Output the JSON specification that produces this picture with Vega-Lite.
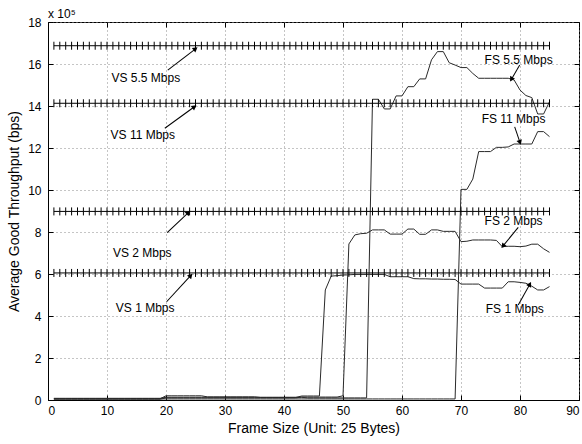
{
  "$schema": "https://vega.github.io/schema/vega-lite/v6.json",
  "autosize": "none",
  "width": 531,
  "height": 378,
  "padding": {"left": 48, "top": 22, "right": 3, "bottom": 44},
  "background": "white",
  "title": {"text": "x 10⁵", "anchor": "start", "frame": "group", "fontSize": 12, "fontWeight": "normal", "font": "Liberation Sans", "offset": 1, "dy": 6, "color": "black"},
  "config": {
    "font": "Liberation Sans",
    "view": {"stroke": "black", "strokeWidth": 1},
    "axis": {"labelFontSize": 12, "titleFontSize": 14, "titleFontWeight": "normal", "labelColor": "black", "titleColor": "black", "domainColor": "black", "tickColor": "black", "gridColor": "#8a8a8a", "gridDash": [1, 3], "gridOpacity": 1, "tickSize": -5, "labelPadding": 10}
  },
  "datasets": {
    "tp": [
      {"x":1,"fs1":0.06,"fs2":0.04,"fs55":0.08,"fs11":0.05,"vs1":6.05,"vs2":8.98,"vs55":16.87,"vs11":14.13},
      {"x":2,"fs1":0.06,"fs2":0.04,"fs55":0.08,"fs11":0.05,"vs1":6.05,"vs2":8.98,"vs55":16.87,"vs11":14.13},
      {"x":3,"fs1":0.06,"fs2":0.04,"fs55":0.08,"fs11":0.05,"vs1":6.05,"vs2":8.98,"vs55":16.87,"vs11":14.13},
      {"x":4,"fs1":0.06,"fs2":0.04,"fs55":0.08,"fs11":0.05,"vs1":6.05,"vs2":8.98,"vs55":16.87,"vs11":14.13},
      {"x":5,"fs1":0.06,"fs2":0.04,"fs55":0.08,"fs11":0.05,"vs1":6.05,"vs2":8.98,"vs55":16.87,"vs11":14.13},
      {"x":6,"fs1":0.06,"fs2":0.04,"fs55":0.08,"fs11":0.05,"vs1":6.05,"vs2":8.98,"vs55":16.87,"vs11":14.13},
      {"x":7,"fs1":0.06,"fs2":0.04,"fs55":0.08,"fs11":0.05,"vs1":6.05,"vs2":8.98,"vs55":16.87,"vs11":14.13},
      {"x":8,"fs1":0.06,"fs2":0.04,"fs55":0.08,"fs11":0.05,"vs1":6.05,"vs2":8.98,"vs55":16.87,"vs11":14.13},
      {"x":9,"fs1":0.06,"fs2":0.04,"fs55":0.08,"fs11":0.05,"vs1":6.05,"vs2":8.98,"vs55":16.87,"vs11":14.13},
      {"x":10,"fs1":0.06,"fs2":0.04,"fs55":0.08,"fs11":0.05,"vs1":6.05,"vs2":8.98,"vs55":16.87,"vs11":14.13},
      {"x":11,"fs1":0.06,"fs2":0.04,"fs55":0.08,"fs11":0.05,"vs1":6.05,"vs2":8.98,"vs55":16.87,"vs11":14.13},
      {"x":12,"fs1":0.06,"fs2":0.04,"fs55":0.08,"fs11":0.05,"vs1":6.05,"vs2":8.98,"vs55":16.87,"vs11":14.13},
      {"x":13,"fs1":0.06,"fs2":0.04,"fs55":0.08,"fs11":0.05,"vs1":6.05,"vs2":8.98,"vs55":16.87,"vs11":14.13},
      {"x":14,"fs1":0.06,"fs2":0.04,"fs55":0.08,"fs11":0.05,"vs1":6.05,"vs2":8.98,"vs55":16.87,"vs11":14.13},
      {"x":15,"fs1":0.06,"fs2":0.04,"fs55":0.08,"fs11":0.05,"vs1":6.05,"vs2":8.98,"vs55":16.87,"vs11":14.13},
      {"x":16,"fs1":0.06,"fs2":0.04,"fs55":0.08,"fs11":0.05,"vs1":6.05,"vs2":8.98,"vs55":16.87,"vs11":14.13},
      {"x":17,"fs1":0.06,"fs2":0.04,"fs55":0.08,"fs11":0.05,"vs1":6.05,"vs2":8.98,"vs55":16.87,"vs11":14.13},
      {"x":18,"fs1":0.06,"fs2":0.04,"fs55":0.08,"fs11":0.05,"vs1":6.05,"vs2":8.98,"vs55":16.87,"vs11":14.13},
      {"x":19,"fs1":0.06,"fs2":0.04,"fs55":0.08,"fs11":0.05,"vs1":6.05,"vs2":8.98,"vs55":16.87,"vs11":14.13},
      {"x":20,"fs1":0.2,"fs2":0.1,"fs55":0.13,"fs11":0.05,"vs1":6.05,"vs2":8.98,"vs55":16.87,"vs11":14.13},
      {"x":21,"fs1":0.2,"fs2":0.1,"fs55":0.13,"fs11":0.05,"vs1":6.05,"vs2":8.98,"vs55":16.87,"vs11":14.13},
      {"x":22,"fs1":0.2,"fs2":0.1,"fs55":0.13,"fs11":0.05,"vs1":6.05,"vs2":8.98,"vs55":16.87,"vs11":14.13},
      {"x":23,"fs1":0.2,"fs2":0.1,"fs55":0.13,"fs11":0.05,"vs1":6.05,"vs2":8.98,"vs55":16.87,"vs11":14.13},
      {"x":24,"fs1":0.2,"fs2":0.1,"fs55":0.13,"fs11":0.05,"vs1":6.05,"vs2":8.98,"vs55":16.87,"vs11":14.13},
      {"x":25,"fs1":0.2,"fs2":0.1,"fs55":0.13,"fs11":0.05,"vs1":6.05,"vs2":8.98,"vs55":16.87,"vs11":14.13},
      {"x":26,"fs1":0.2,"fs2":0.1,"fs55":0.13,"fs11":0.05,"vs1":6.05,"vs2":8.98,"vs55":16.87,"vs11":14.13},
      {"x":27,"fs1":0.15,"fs2":0.1,"fs55":0.13,"fs11":0.05,"vs1":6.05,"vs2":8.98,"vs55":16.87,"vs11":14.13},
      {"x":28,"fs1":0.15,"fs2":0.1,"fs55":0.13,"fs11":0.05,"vs1":6.05,"vs2":8.98,"vs55":16.87,"vs11":14.13},
      {"x":29,"fs1":0.15,"fs2":0.1,"fs55":0.13,"fs11":0.05,"vs1":6.05,"vs2":8.98,"vs55":16.87,"vs11":14.13},
      {"x":30,"fs1":0.15,"fs2":0.1,"fs55":0.13,"fs11":0.05,"vs1":6.05,"vs2":8.98,"vs55":16.87,"vs11":14.13},
      {"x":31,"fs1":0.15,"fs2":0.1,"fs55":0.13,"fs11":0.05,"vs1":6.05,"vs2":8.98,"vs55":16.87,"vs11":14.13},
      {"x":32,"fs1":0.15,"fs2":0.1,"fs55":0.13,"fs11":0.05,"vs1":6.05,"vs2":8.98,"vs55":16.87,"vs11":14.13},
      {"x":33,"fs1":0.15,"fs2":0.1,"fs55":0.13,"fs11":0.05,"vs1":6.05,"vs2":8.98,"vs55":16.87,"vs11":14.13},
      {"x":34,"fs1":0.15,"fs2":0.1,"fs55":0.13,"fs11":0.05,"vs1":6.05,"vs2":8.98,"vs55":16.87,"vs11":14.13},
      {"x":35,"fs1":0.15,"fs2":0.1,"fs55":0.13,"fs11":0.05,"vs1":6.05,"vs2":8.98,"vs55":16.87,"vs11":14.13},
      {"x":36,"fs1":0.12,"fs2":0.1,"fs55":0.13,"fs11":0.05,"vs1":6.05,"vs2":8.98,"vs55":16.87,"vs11":14.13},
      {"x":37,"fs1":0.12,"fs2":0.1,"fs55":0.13,"fs11":0.05,"vs1":6.05,"vs2":8.98,"vs55":16.87,"vs11":14.13},
      {"x":38,"fs1":0.12,"fs2":0.1,"fs55":0.13,"fs11":0.05,"vs1":6.05,"vs2":8.98,"vs55":16.87,"vs11":14.13},
      {"x":39,"fs1":0.12,"fs2":0.1,"fs55":0.13,"fs11":0.05,"vs1":6.05,"vs2":8.98,"vs55":16.87,"vs11":14.13},
      {"x":40,"fs1":0.12,"fs2":0.1,"fs55":0.13,"fs11":0.05,"vs1":6.05,"vs2":8.98,"vs55":16.87,"vs11":14.13},
      {"x":41,"fs1":0.12,"fs2":0.1,"fs55":0.13,"fs11":0.05,"vs1":6.05,"vs2":8.98,"vs55":16.87,"vs11":14.13},
      {"x":42,"fs1":0.12,"fs2":0.1,"fs55":0.13,"fs11":0.05,"vs1":6.05,"vs2":8.98,"vs55":16.87,"vs11":14.13},
      {"x":43,"fs1":0.19,"fs2":0.14,"fs55":0.13,"fs11":0.05,"vs1":6.05,"vs2":8.98,"vs55":16.87,"vs11":14.13},
      {"x":44,"fs1":0.19,"fs2":0.14,"fs55":0.1,"fs11":0.05,"vs1":6.05,"vs2":8.98,"vs55":16.87,"vs11":14.13},
      {"x":45,"fs1":0.19,"fs2":0.14,"fs55":0.1,"fs11":0.05,"vs1":6.05,"vs2":8.98,"vs55":16.87,"vs11":14.13},
      {"x":46,"fs1":0.19,"fs2":0.14,"fs55":0.1,"fs11":0.05,"vs1":6.05,"vs2":8.98,"vs55":16.87,"vs11":14.13},
      {"x":47,"fs1":5.24,"fs2":0.14,"fs55":0.1,"fs11":0.05,"vs1":6.05,"vs2":8.98,"vs55":16.87,"vs11":14.13},
      {"x":48,"fs1":5.9,"fs2":0.14,"fs55":0.1,"fs11":0.05,"vs1":6.05,"vs2":8.98,"vs55":16.87,"vs11":14.13},
      {"x":49,"fs1":5.92,"fs2":0.14,"fs55":0.1,"fs11":0.05,"vs1":6.05,"vs2":8.98,"vs55":16.87,"vs11":14.13},
      {"x":50,"fs1":5.95,"fs2":0.2,"fs55":0.1,"fs11":0.05,"vs1":6.05,"vs2":8.98,"vs55":16.87,"vs11":14.13},
      {"x":51,"fs1":5.96,"fs2":7.43,"fs55":0.1,"fs11":0.05,"vs1":6.05,"vs2":8.98,"vs55":16.87,"vs11":14.13},
      {"x":52,"fs1":5.98,"fs2":7.86,"fs55":0.1,"fs11":0.05,"vs1":6.05,"vs2":8.98,"vs55":16.87,"vs11":14.13},
      {"x":53,"fs1":5.98,"fs2":7.92,"fs55":0.1,"fs11":0.05,"vs1":6.05,"vs2":8.98,"vs55":16.87,"vs11":14.13},
      {"x":54,"fs1":5.98,"fs2":7.94,"fs55":0.1,"fs11":0.05,"vs1":6.05,"vs2":8.98,"vs55":16.87,"vs11":14.13},
      {"x":55,"fs1":5.98,"fs2":8.1,"fs55":14.32,"fs11":0.05,"vs1":6.05,"vs2":8.98,"vs55":16.87,"vs11":14.13},
      {"x":56,"fs1":5.98,"fs2":8.1,"fs55":14.32,"fs11":0.05,"vs1":6.05,"vs2":8.98,"vs55":16.87,"vs11":14.13},
      {"x":57,"fs1":5.98,"fs2":8.1,"fs55":13.86,"fs11":0.05,"vs1":6.05,"vs2":8.98,"vs55":16.87,"vs11":14.13},
      {"x":58,"fs1":5.87,"fs2":7.9,"fs55":13.86,"fs11":0.05,"vs1":6.05,"vs2":8.98,"vs55":16.87,"vs11":14.13},
      {"x":59,"fs1":5.87,"fs2":7.9,"fs55":14.48,"fs11":0.05,"vs1":6.05,"vs2":8.98,"vs55":16.87,"vs11":14.13},
      {"x":60,"fs1":5.87,"fs2":7.9,"fs55":14.48,"fs11":0.05,"vs1":6.05,"vs2":8.98,"vs55":16.87,"vs11":14.13},
      {"x":61,"fs1":5.87,"fs2":8.14,"fs55":14.92,"fs11":0.05,"vs1":6.05,"vs2":8.98,"vs55":16.87,"vs11":14.13},
      {"x":62,"fs1":5.78,"fs2":8.14,"fs55":14.92,"fs11":0.05,"vs1":6.05,"vs2":8.98,"vs55":16.87,"vs11":14.13},
      {"x":63,"fs1":5.77,"fs2":7.89,"fs55":15.29,"fs11":0.05,"vs1":6.05,"vs2":8.98,"vs55":16.87,"vs11":14.13},
      {"x":64,"fs1":5.77,"fs2":7.89,"fs55":15.29,"fs11":0.05,"vs1":6.05,"vs2":8.98,"vs55":16.87,"vs11":14.13},
      {"x":65,"fs1":5.76,"fs2":8.1,"fs55":16.2,"fs11":0.05,"vs1":6.05,"vs2":8.98,"vs55":16.87,"vs11":14.13},
      {"x":66,"fs1":5.76,"fs2":8.1,"fs55":16.59,"fs11":0.05,"vs1":6.05,"vs2":8.98,"vs55":16.87,"vs11":14.13},
      {"x":67,"fs1":5.75,"fs2":8.03,"fs55":16.59,"fs11":0.05,"vs1":6.05,"vs2":8.98,"vs55":16.87,"vs11":14.13},
      {"x":68,"fs1":5.75,"fs2":8.03,"fs55":16.06,"fs11":0.05,"vs1":6.05,"vs2":8.98,"vs55":16.87,"vs11":14.13},
      {"x":69,"fs1":5.74,"fs2":8.03,"fs55":15.95,"fs11":0.05,"vs1":6.05,"vs2":8.98,"vs55":16.87,"vs11":14.13},
      {"x":70,"fs1":5.52,"fs2":7.54,"fs55":15.83,"fs11":10.03,"vs1":6.05,"vs2":8.98,"vs55":16.87,"vs11":14.13},
      {"x":71,"fs1":5.52,"fs2":7.56,"fs55":15.83,"fs11":10.03,"vs1":6.05,"vs2":8.98,"vs55":16.87,"vs11":14.13},
      {"x":72,"fs1":5.52,"fs2":7.62,"fs55":15.55,"fs11":10.52,"vs1":6.05,"vs2":8.98,"vs55":16.87,"vs11":14.13},
      {"x":73,"fs1":5.52,"fs2":7.62,"fs55":15.32,"fs11":11.83,"vs1":6.05,"vs2":8.98,"vs55":16.87,"vs11":14.13},
      {"x":74,"fs1":5.33,"fs2":7.62,"fs55":15.32,"fs11":11.83,"vs1":6.05,"vs2":8.98,"vs55":16.87,"vs11":14.13},
      {"x":75,"fs1":5.33,"fs2":7.62,"fs55":15.32,"fs11":11.83,"vs1":6.05,"vs2":8.98,"vs55":16.87,"vs11":14.13},
      {"x":76,"fs1":5.33,"fs2":7.6,"fs55":15.32,"fs11":12.03,"vs1":6.05,"vs2":8.98,"vs55":16.87,"vs11":14.13},
      {"x":77,"fs1":5.33,"fs2":7.3,"fs55":15.32,"fs11":12.03,"vs1":6.05,"vs2":8.98,"vs55":16.87,"vs11":14.13},
      {"x":78,"fs1":5.63,"fs2":7.32,"fs55":15.32,"fs11":12.05,"vs1":6.05,"vs2":8.98,"vs55":16.87,"vs11":14.13},
      {"x":79,"fs1":5.63,"fs2":7.32,"fs55":15.24,"fs11":12.19,"vs1":6.05,"vs2":8.98,"vs55":16.87,"vs11":14.13},
      {"x":80,"fs1":5.6,"fs2":7.3,"fs55":14.76,"fs11":12.19,"vs1":6.05,"vs2":8.98,"vs55":16.87,"vs11":14.13},
      {"x":81,"fs1":5.56,"fs2":7.33,"fs55":14.5,"fs11":12.19,"vs1":6.05,"vs2":8.98,"vs55":16.87,"vs11":14.13},
      {"x":82,"fs1":5.42,"fs2":7.42,"fs55":14.4,"fs11":12.19,"vs1":6.05,"vs2":8.98,"vs55":16.87,"vs11":14.13},
      {"x":83,"fs1":5.24,"fs2":7.42,"fs55":13.62,"fs11":12.78,"vs1":6.05,"vs2":8.98,"vs55":16.87,"vs11":14.13},
      {"x":84,"fs1":5.24,"fs2":7.2,"fs55":13.62,"fs11":12.78,"vs1":6.05,"vs2":8.98,"vs55":16.87,"vs11":14.13},
      {"x":85,"fs1":5.4,"fs2":7.03,"fs55":14.2,"fs11":12.54,"vs1":6.05,"vs2":8.98,"vs55":16.87,"vs11":14.13}
    ],
    "notes": [
      {"label":"VS 5.5 Mbps","tx":10.75,"ty":15.35,"ax":20.3,"ay":15.71,"hx":24.9,"hy":16.7},
      {"label":"VS 11 Mbps","tx":10.6,"ty":12.62,"ax":19.8,"ay":12.94,"hx":24.7,"hy":13.94},
      {"label":"VS 2 Mbps","tx":11.0,"ty":7.01,"ax":20.2,"ay":7.97,"hx":23.7,"hy":8.9},
      {"label":"VS 1 Mbps","tx":11.5,"ty":4.4,"ax":20.1,"ay":4.68,"hx":24.1,"hy":5.9},
      {"label":"FS 5.5 Mbps","tx":74.0,"ty":16.19,"ax":79.95,"ay":15.95,"hx":78.6,"hy":15.3},
      {"label":"FS 11 Mbps","tx":73.5,"ty":13.37,"ax":79.1,"ay":13.01,"hx":79.95,"hy":12.3},
      {"label":"FS 2 Mbps","tx":74.0,"ty":8.52,"ax":79.7,"ay":8.22,"hx":77.2,"hy":7.36},
      {"label":"FS 1 Mbps","tx":74.2,"ty":4.32,"ax":79.7,"ay":4.52,"hx":81.6,"hy":5.48}
    ]
  },
  "resolve": {"axis": {"x": "independent", "y": "independent"}},
  "layer": [
    {
      "data": {"name": "tp"},
      "transform": [{"fold": ["fs1", "fs2", "fs55", "fs11"], "as": ["series", "val"]}],
      "mark": {"type": "line", "color": "#2a2a2a", "strokeWidth": 1, "interpolate": "linear"},
      "encoding": {
        "x": {"field": "x", "type": "quantitative", "scale": {"domain": [0, 90], "nice": false}, "axis": {"orient": "bottom", "values": [0,10,20,30,40,50,60,70,80,90], "grid": true, "title": "Frame Size (Unit: 25 Bytes)", "titlePadding": 5}},
        "y": {"field": "val", "type": "quantitative", "scale": {"domain": [0, 18], "nice": false}, "axis": {"orient": "left", "values": [0,2,4,6,8,10,12,14,16,18], "grid": true, "labelPadding": 12, "title": "Average Good Throughput (bps)", "titlePadding": 6}},
        "detail": {"field": "series"}
      }
    },
    {
      "data": {"name": "tp"},
      "transform": [{"fold": ["vs1", "vs2", "vs55", "vs11"], "as": ["series", "val"]}],
      "mark": {"type": "line", "color": "black", "strokeWidth": 1},
      "encoding": {
        "x": {"field": "x", "type": "quantitative", "scale": {"domain": [0, 90], "nice": false}, "axis": null},
        "y": {"field": "val", "type": "quantitative", "scale": {"domain": [0, 18], "nice": false}, "axis": null},
        "detail": {"field": "series"}
      }
    },
    {
      "data": {"name": "tp"},
      "transform": [{"fold": ["vs1", "vs2", "vs55", "vs11"], "as": ["series", "val"]}],
      "mark": {"type": "point", "shape": "M0,-1L0,1", "size": 64, "filled": false, "color": "black", "strokeWidth": 1, "opacity": 1},
      "encoding": {
        "x": {"field": "x", "type": "quantitative", "scale": {"domain": [0, 90], "nice": false}, "axis": null},
        "y": {"field": "val", "type": "quantitative", "scale": {"domain": [0, 18], "nice": false}, "axis": null}
      }
    },
    {
      "data": {"name": "notes"},
      "transform": [
        {"calculate": "atan2((datum.hx - datum.ax) * 5.9, (datum.hy - datum.ay) * 21) * 180 / PI", "as": "ang"},
        {"calculate": "(datum.ax + datum.hx) / 2", "as": "mx"},
        {"calculate": "(datum.ay + datum.hy) / 2", "as": "my"},
        {"calculate": "pow((datum.hx - datum.ax) * 5.9, 2) + pow((datum.hy - datum.ay) * 21, 2)", "as": "len2"}
      ],
      "mark": {"type": "point", "shape": "M0,-1L0,1", "filled": false, "color": "black", "strokeWidth": 1, "opacity": 1},
      "encoding": {
        "x": {"field": "mx", "type": "quantitative", "scale": {"domain": [0, 90], "nice": false}, "axis": null},
        "y": {"field": "my", "type": "quantitative", "scale": {"domain": [0, 18], "nice": false}, "axis": null},
        "angle": {"field": "ang", "type": "quantitative", "scale": null},
        "size": {"field": "len2", "type": "quantitative", "scale": null}
      }
    },
    {
      "data": {"name": "notes"},
      "transform": [{"calculate": "atan2((datum.hx - datum.ax) * 5.9, (datum.hy - datum.ay) * 21) * 180 / PI", "as": "ang"}],
      "mark": {"type": "point", "shape": "triangle", "size": 32, "filled": true, "color": "black", "opacity": 1},
      "encoding": {
        "x": {"field": "hx", "type": "quantitative", "scale": {"domain": [0, 90], "nice": false}, "axis": null},
        "y": {"field": "hy", "type": "quantitative", "scale": {"domain": [0, 18], "nice": false}, "axis": null},
        "angle": {"field": "ang", "type": "quantitative", "scale": null}
      }
    },
    {
      "data": {"name": "notes"},
      "mark": {"type": "text", "align": "left", "baseline": "middle", "fontSize": 12, "font": "Liberation Sans", "color": "black"},
      "encoding": {
        "x": {"field": "tx", "type": "quantitative", "scale": {"domain": [0, 90], "nice": false}, "axis": {"orient": "top", "values": [0,10,20,30,40,50,60,70,80,90], "labels": false, "grid": false, "domain": false, "title": null}},
        "y": {"field": "ty", "type": "quantitative", "scale": {"domain": [0, 18], "nice": false}, "axis": {"orient": "right", "values": [0,2,4,6,8,10,12,14,16,18], "labels": false, "grid": false, "domain": false, "title": null}},
        "text": {"field": "label"}
      }
    }
  ]
}
